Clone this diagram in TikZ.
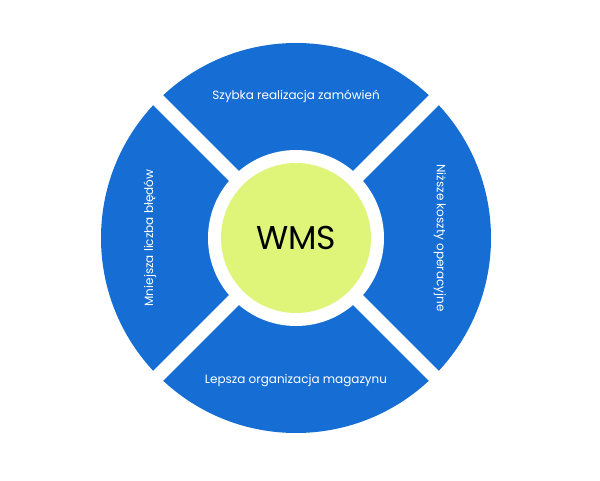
\documentclass[tikz,border=0pt]{standalone}
\usepackage{fontspec}
\setmainfont{Poppins}
\usetikzlibrary{calc}
\definecolor{segBlue}{RGB}{22,110,212}
\definecolor{hubGreen}{RGB}{222,245,122}
\tikzset{
  segLabel/.style={text=white,font=\fontsize{12}{14}\selectfont,inner sep=0pt},
  gapLine/.style={draw=white,line width=14pt}
}
\begin{document}
\begin{tikzpicture}[x=1pt,y=1pt]
\path[use as bounding box,fill=white] (0,0) rectangle (600,480);
\coordinate (c) at (296,242);
% blue ring
\fill[segBlue] (c) circle (195);
\foreach \a in {45,135}
  \draw[gapLine] ($(c)+(\a:200)$) -- ($(c)+(\a+180:200)$);
\fill[white] (c) circle (88);
% hub
\node[circle,fill=hubGreen,minimum size=150pt,inner sep=0pt,
  font=\fontsize{33}{36}\selectfont] (hub) at (c) {WMS};
% labels
\node[segLabel] (top) at (296,384) {Szybka realizacja zamówień};
\node[segLabel,rotate=-90] (right) at (440,242) {Niższe koszty operacyjne};
\node[segLabel] (bottom) at (296,99) {Lepsza organizacja magazynu};
\node[segLabel,rotate=90] (left) at (150,242) {Mniejsza liczba błędów};
\end{tikzpicture}
\end{document}
